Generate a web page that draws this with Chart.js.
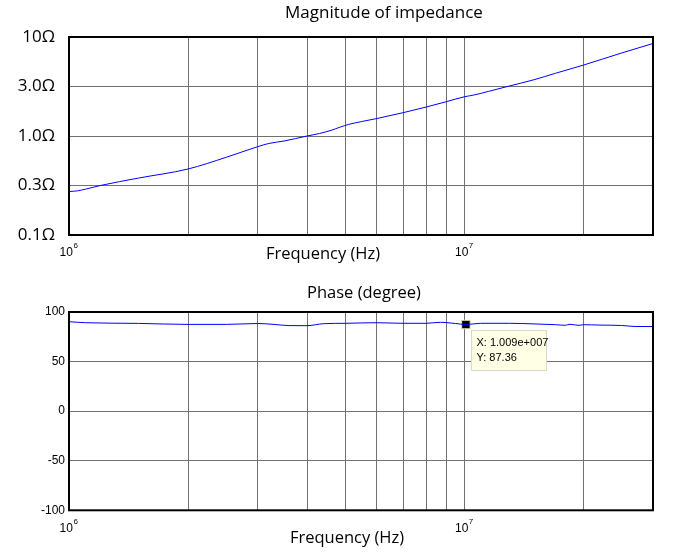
<!DOCTYPE html>
<html>
<head>
<meta charset="utf-8">
<script src="https://cdn.jsdelivr.net/npm/chart.js@4.4.0/dist/chart.umd.min.js"></script>
<style>
  body { margin: 0; background: #fff; }
  #wrap { position: relative; width: 673px; height: 552px; }
  canvas { position: absolute; left: 0; }
</style>
</head>
<body>
<div id="wrap">
  <canvas id="magChart" width="673" height="276" style="top:0"></canvas>
  <canvas id="phaseChart" width="673" height="276" style="top:276px"></canvas>
</div>
<script>
// frequency points (Hz)
const magFreq = [1.0e6, 1.05e6, 1.1e6, 1.2e6, 1.5e6, 2.0e6, 2.5e6, 3.0e6, 3.2e6, 3.5e6, 4.0e6, 4.3e6, 4.6e6, 4.85e6,
                 5.1e6, 5.5e6, 6.0e6, 7.0e6, 8.0e6, 9.0e6, 1.0e7, 1.06e7, 1.15e7, 1.3e7, 1.5e7, 1.7e7, 2.0e7, 2.5e7, 3.0e7];
// |Z| in ohm
const magnitude = [0.275, 0.279, 0.29, 0.316, 0.376, 0.464, 0.61, 0.78, 0.84, 0.89, 1.0, 1.06, 1.14, 1.23,
                   1.31, 1.40, 1.50, 1.72, 1.96, 2.22, 2.49, 2.6, 2.82, 3.2, 3.7, 4.3, 5.2, 6.9, 8.6];

const phaseFreq = [1.0e6, 1.1e6, 1.5e6, 2.0e6, 2.5e6, 3.0e6, 3.3e6, 3.6e6, 4.0e6, 4.4e6, 5.0e6, 6.0e6, 7.0e6, 8.0e6,
                   8.7e6, 9.5e6, 1.009e7, 1.1e7, 1.3e7, 1.5e7, 1.7e7, 1.8e7, 1.85e7, 1.95e7, 2.0e7, 2.2e7, 2.5e7, 2.7e7, 3.0e7];
// phase in degree
const phase = [90.2, 89.2, 88.5, 87.5, 87.5, 88.4, 87.5, 86.3, 86.2, 88.2, 88.6, 89.2, 88.6, 88.6,
               89.6, 88.4, 87.36, 88.6, 88.6, 88.0, 87.2, 86.6, 87.6, 86.5, 87.2, 86.8, 86.4, 85.4, 85.3];

// axis ticks
const freqTicks = [1e6, 2e6, 3e6, 4e6, 5e6, 6e6, 7e6, 8e6, 9e6, 1e7, 2e7, 3e7];
const freqTickExp = ['6', '', '', '', '', '', '', '', '', '7', '', ''];   // shown as 10^exp
const magTicks = [0.1, 0.3162, 1, 3.162, 10];
const magTickLabels = ['0.1\u03A9', '0.3\u03A9', '1.0\u03A9', '3.0\u03A9', '10\u03A9'];
const phaseTicks = [-100, -50, 0, 50, 100];
const phaseTickLabels = ['-100', '-50', '0', '50', '100'];

// data tip
const tipFreq = 1.009e7;
const tipPhase = 87.36;

function matlabExp(v) {
    const parts = v.toExponential(3).split('e');
    return parts[0] + 'e' + parts[1][0] + parts[1].slice(1).padStart(3, '0');
}

// box, titles and 10^n labels, drawn the matlab way
const framePlugin = {
    id: 'frame',
    afterDraw(chart, args, opts) {
        const ctx = chart.ctx;
        const a = chart.chartArea;
        ctx.save();
        ctx.strokeStyle = '#000';
        ctx.lineWidth = 2;
        ctx.strokeRect(a.left, a.top, a.right - a.left, a.bottom - a.top);

        ctx.fillStyle = '#000';
        ctx.textAlign = 'center';
        ctx.textBaseline = 'middle';
        ctx.font = opts.titleSize + 'px "Open Sans"';
        ctx.fillText(opts.title, opts.titleX, opts.titleY);
        ctx.font = '16.5px "Open Sans"';
        ctx.fillText(opts.xTitle, opts.xTitleX, opts.xTitleY);

        // decade labels
        const xs = chart.scales.x;
        freqTicks.forEach((v, i) => {
            if (!freqTickExp[i]) return;
            const px = xs.getPixelForValue(v);
            ctx.font = '12px "Liberation Sans"';
            const w1 = ctx.measureText('10').width;
            ctx.font = '8px "Liberation Sans"';
            const w2 = ctx.measureText(freqTickExp[i]).width;
            const left = px - (w1 + w2) / 2 - 0.5;
            const y = a.bottom + opts.labelDy;
            ctx.textAlign = 'left';
            ctx.font = '12px "Liberation Sans"';
            ctx.fillText('10', left, y);
            ctx.font = '8px "Liberation Sans"';
            ctx.fillText(freqTickExp[i], left + w1 + 0.5, y - 7);
        });
        ctx.restore();
    }
};

const datatipPlugin = {
    id: 'datatip',
    afterDraw(chart, args, opts) {
        if (!opts.show) return;
        const ctx = chart.ctx;
        const px = chart.scales.x.getPixelForValue(opts.x);
        const py = chart.scales.y.getPixelForValue(opts.y);
        const bx = Math.round(px + 5) + 0.5, by = Math.round(py + 5) + 0.5;
        ctx.save();
        ctx.fillStyle = '#ffffe6';
        ctx.fillRect(bx, by, 75, 40);
        ctx.strokeStyle = '#d9d9c8';
        ctx.lineWidth = 1;
        ctx.strokeRect(bx, by, 75, 40);
        ctx.fillStyle = '#000';
        ctx.font = '11px "Liberation Sans"';
        ctx.textBaseline = 'middle';
        ctx.fillText('X: ' + matlabExp(opts.x), bx + 5, by + 12.5);
        ctx.fillText('Y: ' + opts.y.toFixed(2), bx + 5, by + 27.5);
        ctx.restore();
    }
};

function xScale(height) {
    return {
        type: 'logarithmic',
        min: 1e6,
        max: 3e7,
        afterBuildTicks: (scale) => { scale.ticks = freqTicks.map(v => ({ value: v })); },
        afterFit: (scale) => { scale.height = height; },
        ticks: { display: false, autoSkip: false },
        grid: { color: '#707070', lineWidth: 1, drawTicks: false },
        border: { display: false }
    };
}

function StatisticMagnitude() {
    const config = {
        type: 'line',
        data: {
            datasets: [{
                data: magFreq.map((f, i) => ({ x: f, y: magnitude[i] })),
                borderColor: '#0000ff',
                borderWidth: 1,
                pointRadius: 0,
                cubicInterpolationMode: 'monotone'
            }]
        },
        options: {
            responsive: false,
            animation: false,
            events: [],
            layout: { padding: { left: 0, right: 20, top: 37, bottom: 0 } },
            scales: {
                x: xScale(41),
                y: {
                    type: 'logarithmic',
                    min: 0.1,
                    max: 10,
                    afterBuildTicks: (scale) => { scale.ticks = magTicks.map(v => ({ value: v })); },
                    afterFit: (scale) => { scale.width = 69; },
                    ticks: {
                        padding: 14,
                        color: '#000',
                        font: { family: '"Open Sans"', size: 17 },
                        callback: (value, index) => magTickLabels[index]
                    },
                    grid: { color: '#707070', lineWidth: 1, drawTicks: false },
                    border: { display: false }
                }
            },
            plugins: {
                legend: { display: false },
                tooltip: { enabled: false },
                frame: {
                    title: 'Magnitude of impedance', titleSize: 17, titleX: 384, titleY: 13,
                    xTitle: 'Frequency (Hz)', xTitleX: 323, xTitleY: 254,
                    labelDy: 17.5
                },
                datatip: { show: false }
            }
        },
        plugins: [framePlugin, datatipPlugin]
    };
    const ctx = document.getElementById('magChart').getContext('2d');
    window.magChart = new Chart(ctx, config);
}

function StatisticPhase() {
    const config = {
        type: 'line',
        data: {
            datasets: [
                {
                    data: phaseFreq.map((f, i) => ({ x: f, y: phase[i] })),
                    borderColor: '#0000ff',
                    borderWidth: 1,
                    pointRadius: 0,
                    cubicInterpolationMode: 'monotone'
                },
                {
                    data: [{ x: tipFreq, y: tipPhase }],
                    showLine: false,
                    pointStyle: 'rect',
                    pointRadius: 6,
                    backgroundColor: '#000',
                    borderColor: '#e8e8b0',
                    borderWidth: 1
                }
            ]
        },
        options: {
            responsive: false,
            animation: false,
            events: [],
            layout: { padding: { left: 0, right: 20, top: 36, bottom: 0 } },
            scales: {
                x: xScale(41.7),
                y: {
                    type: 'linear',
                    min: -100,
                    max: 100,
                    afterBuildTicks: (scale) => { scale.ticks = phaseTicks.map(v => ({ value: v })); },
                    afterFit: (scale) => { scale.width = 69; },
                    ticks: {
                        padding: 4,
                        color: '#000',
                        font: { family: '"Liberation Sans"', size: 12 },
                        callback: (value, index) => phaseTickLabels[index]
                    },
                    grid: { color: '#707070', lineWidth: 1, drawTicks: false },
                    border: { display: false }
                }
            },
            plugins: {
                legend: { display: false },
                tooltip: { enabled: false },
                frame: {
                    title: 'Phase (degree)', titleSize: 16.5, titleX: 364, titleY: 17,
                    xTitle: 'Frequency (Hz)', xTitleX: 347, xTitleY: 262,
                    labelDy: 18.7
                },
                datatip: { show: true, x: tipFreq, y: tipPhase }
            }
        },
        plugins: [framePlugin, datatipPlugin]
    };
    const ctx = document.getElementById('phaseChart').getContext('2d');
    window.phaseChart = new Chart(ctx, config);
}

document.addEventListener('DOMContentLoaded', () => {
    StatisticMagnitude();
    StatisticPhase();
});
</script>
</body>
</html>
